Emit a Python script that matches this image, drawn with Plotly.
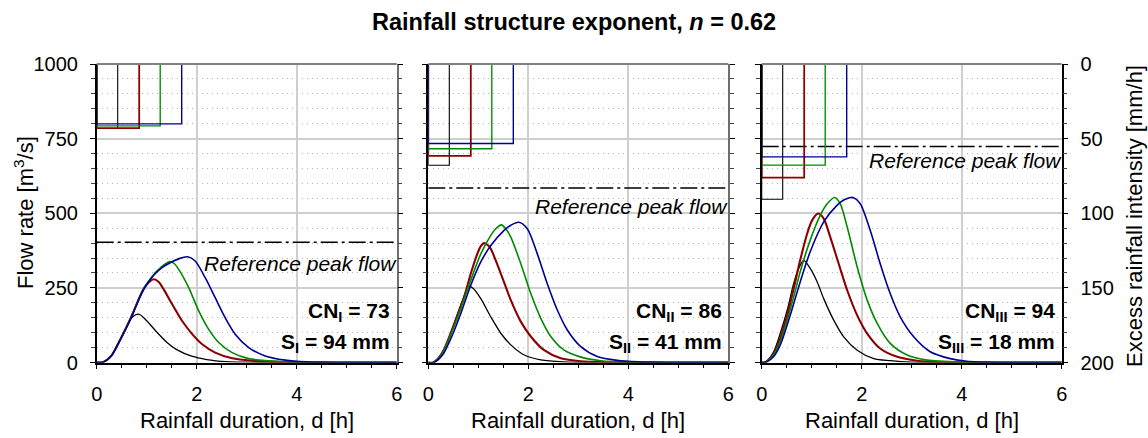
import plotly.graph_objects as go
from plotly.subplots import make_subplots

# ---------------- data ----------------
durations = [0.42, 0.85, 1.27, 1.70]          # rainfall duration [h]
colors = ["#000000", "#8b0000", "#008a00", "#000096"]
widths = [1.3, 2.1, 1.6, 1.6]

# excess rainfall intensity [mm/h] per duration
intensity_I = [43.2, 43.0, 41.5, 40.1]
intensity_II = [67.8, 61.5, 56.8, 53.3]
intensity_III = [90.6, 76.1, 67.8, 62.2]

# reference peak flow [m3/s]
ref_peak = [403, 585, 724]

cn_labels = ["<b>CN<sub>I</sub> = 73</b>", "<b>CN<sub>II</sub> = 86</b>", "<b>CN<sub>III</sub> = 94</b>"]
s_labels = ["<b>S<sub>I</sub> = 94 mm</b>", "<b>S<sub>II</sub> = 41 mm</b>", "<b>S<sub>III</sub> = 18 mm</b>"]

# hydrographs, CN_I = 73
hyd_I_1_t = [0, 0.1, 0.2, 0.3, 0.45, 0.57, 0.7, 0.84, 1.0, 1.2, 1.4, 1.6, 1.9, 2.2, 2.6, 3.0, 3.5, 6]
hyd_I_1_q = [0, 0, 8, 24, 70, 110, 150, 162, 140, 102, 68, 43, 21, 10, 3, 1, 0, 0]
hyd_I_2_t = [0, 0.1, 0.2, 0.3, 0.45, 0.57, 0.71, 0.84, 0.95, 1.05, 1.14, 1.24, 1.34, 1.51, 1.71, 1.91, 2.11, 2.37, 2.71, 3.11, 3.57, 4.2, 6]
hyd_I_2_q = [0, 0, 8, 24, 70, 110, 160, 212, 250, 270, 279, 270, 245, 195, 139, 95, 61, 33, 14, 6, 2, 0, 0]
hyd_I_3_t = [0, 0.1, 0.2, 0.3, 0.45, 0.57, 0.71, 0.84, 0.95, 1.14, 1.24, 1.35, 1.47, 1.56, 1.64, 1.84, 2.04, 2.24, 2.44, 2.71, 3.04, 3.44, 4.0, 4.5, 6]
hyd_I_3_q = [0, 0, 8, 24, 70, 110, 160, 212, 250, 295, 312, 328, 338, 330, 312, 251, 173, 111, 67, 33, 13, 6, 1, 0, 0]
hyd_I_4_t = [0, 0.1, 0.2, 0.3, 0.45, 0.57, 0.71, 0.84, 0.95, 1.14, 1.3, 1.47, 1.65, 1.82, 1.97, 2.17, 2.37, 2.57, 2.77, 3.04, 3.37, 3.77, 4.2, 4.8, 6]
hyd_I_4_q = [0, 0, 8, 24, 69, 108, 158, 210, 248, 292, 317, 334, 348, 354, 340, 284, 217, 150, 95, 50, 22, 8, 2, 0, 0]

# hydrographs, CN_II = 86
hyd_II_1_t = [0, 0.1, 0.2, 0.31, 0.41, 0.51, 0.65, 0.75, 0.82, 0.9, 1.05, 1.25, 1.45, 1.65, 1.91, 2.25, 2.71, 3.2, 6]
hyd_II_1_q = [0, 0, 14, 42, 82, 126, 192, 237, 255, 248, 214, 153, 98, 59, 26, 9, 2, 0, 0]
hyd_II_2_t = [0, 0.1, 0.2, 0.31, 0.41, 0.51, 0.65, 0.71, 0.85, 0.98, 1.05, 1.11, 1.2, 1.25, 1.45, 1.65, 1.85, 2.05, 2.31, 2.65, 3.05, 3.58, 4.2, 6]
hyd_II_2_q = [0, 0, 14, 42, 82, 126, 190, 215, 298, 364, 390, 400, 392, 381, 298, 209, 137, 87, 42, 14, 4, 1, 0, 0]
hyd_II_3_t = [0, 0.1, 0.2, 0.31, 0.41, 0.51, 0.65, 0.85, 1.05, 1.25, 1.35, 1.46, 1.55, 1.65, 1.85, 2.05, 2.25, 2.45, 2.71, 3.05, 3.45, 4.0, 4.6, 6]
hyd_II_3_q = [0, 0, 12, 38, 76, 118, 180, 276, 364, 426, 448, 461, 448, 420, 331, 231, 148, 87, 42, 18, 6, 1, 0, 0]
hyd_II_4_t = [0, 0.1, 0.2, 0.31, 0.41, 0.51, 0.65, 0.85, 1.05, 1.25, 1.51, 1.65, 1.81, 1.98, 2.18, 2.38, 2.58, 2.78, 3.05, 3.38, 3.78, 4.2, 4.8, 6]
hyd_II_4_q = [0, 0, 10, 31, 65, 103, 164, 259, 337, 392, 442, 460, 470, 448, 364, 264, 176, 109, 53, 20, 7, 2, 0, 0]

# hydrographs, CN_III = 94
hyd_III_1_t = [0, 0.05, 0.11, 0.24, 0.37, 0.51, 0.64, 0.74, 0.84, 0.97, 1.11, 1.24, 1.44, 1.64, 1.91, 2.24, 2.57, 3.0, 3.5, 6]
hyd_III_1_q = [0, 0, 6, 36, 97, 175, 265, 315, 342, 315, 270, 214, 142, 86, 41, 13, 6, 1, 0, 0]
hyd_III_2_t = [0, 0.05, 0.11, 0.24, 0.37, 0.51, 0.64, 0.77, 0.91, 1.01, 1.13, 1.24, 1.37, 1.54, 1.71, 1.91, 2.11, 2.37, 2.71, 3.11, 3.6, 4.2, 6]
hyd_III_2_q = [0, 0, 5, 30, 80, 158, 248, 343, 432, 477, 499, 482, 421, 331, 242, 158, 97, 47, 19, 6, 1, 0, 0]
hyd_III_3_t = [0, 0.05, 0.11, 0.24, 0.37, 0.51, 0.64, 0.77, 0.97, 1.17, 1.31, 1.46, 1.57, 1.71, 1.91, 2.11, 2.31, 2.57, 2.91, 3.31, 4.0, 4.6, 6]
hyd_III_3_q = [0, 0, 4, 26, 69, 142, 220, 304, 410, 493, 532, 553, 532, 454, 320, 209, 131, 64, 25, 8, 1, 0, 0]
hyd_III_4_t = [0, 0.05, 0.11, 0.24, 0.37, 0.57, 0.77, 0.97, 1.24, 1.51, 1.65, 1.82, 1.97, 2.17, 2.37, 2.57, 2.77, 3.04, 3.37, 3.77, 4.1, 4.8, 6]
hyd_III_4_q = [0, 0, 3, 20, 58, 158, 270, 371, 471, 527, 545, 553, 532, 443, 331, 231, 153, 86, 36, 13, 4, 0, 0]

panels = [
    (intensity_I, [(hyd_I_1_t, hyd_I_1_q), (hyd_I_2_t, hyd_I_2_q), (hyd_I_3_t, hyd_I_3_q), (hyd_I_4_t, hyd_I_4_q)]),
    (intensity_II, [(hyd_II_1_t, hyd_II_1_q), (hyd_II_2_t, hyd_II_2_q), (hyd_II_3_t, hyd_II_3_q), (hyd_II_4_t, hyd_II_4_q)]),
    (intensity_III, [(hyd_III_1_t, hyd_III_1_q), (hyd_III_2_t, hyd_III_2_q), (hyd_III_3_t, hyd_III_3_q), (hyd_III_4_t, hyd_III_4_q)]),
]

# ---------------- layout geometry (pixels) ----------------
W, H = 1148, 438
panel_left = [96.7, 428.3, 761.7]
panel_width = 300.0
plot_top, plot_bottom = 64.0, 362.5
FONT = "Liberation Sans, Arial, sans-serif"

fig = make_subplots(rows=1, cols=3, specs=[[{"secondary_y": True}] * 3])

for col, (intens, hyds) in enumerate(panels, start=1):
    # excess rainfall hyetographs hanging from the top (secondary axis)
    for k, d in enumerate(durations):
        fig.add_trace(go.Scatter(
            x=[0, 0, d, d], y=[0, intens[k], intens[k], 0], mode="lines",
            line=dict(color=colors[k], width=widths[k] * 0.85),
            showlegend=False, hoverinfo="skip"),
            row=1, col=col, secondary_y=True)
    # reference peak flow
    fig.add_trace(go.Scatter(
        x=[0, 6], y=[ref_peak[col - 1]] * 2, mode="lines",
        line=dict(color="black", width=1.5, dash="17px,4px,3px,4px"),
        showlegend=False, hoverinfo="skip"),
        row=1, col=col, secondary_y=False)
    # hydrographs
    for k, (t, q) in enumerate(hyds):
        fig.add_trace(go.Scatter(
            x=t, y=q, mode="lines", line=dict(color=colors[k], width=widths[k], shape="spline", smoothing=0.8),
            showlegend=False, hoverinfo="skip"),
            row=1, col=col, secondary_y=False)

ydom = [1 - plot_bottom / H, 1 - plot_top / H]
tickfont = dict(family=FONT, size=20, color="black")

for i in range(3):
    xa = "xaxis" if i == 0 else f"xaxis{i + 1}"
    ya = "yaxis" if i == 0 else f"yaxis{2 * i + 1}"
    ya2 = f"yaxis{2 * i + 2}"
    x0 = panel_left[i] / W
    x1 = (panel_left[i] + panel_width) / W
    fig.layout[xa].update(
        domain=[x0, x1], range=[0, 6], dtick=2, tick0=0,
        showgrid=True, gridcolor="#cfcfcf", gridwidth=1.5,
        showline=True, linecolor="black", linewidth=1.5,
        ticks="outside", ticklen=5, tickcolor="black",
        minor=dict(dtick=0.5, ticks="outside", ticklen=4, tickcolor="black", showgrid=False),
        tickfont=tickfont, ticklabelstandoff=8, zeroline=False, automargin=False)
    fig.layout[ya].update(
        domain=ydom, range=[0, 1000], dtick=250, tick0=0,
        showgrid=True, gridcolor="#cfcfcf", gridwidth=1.5,
        showline=True, linecolor="black", linewidth=1.5,
        ticks="outside", ticklen=5, tickcolor="black",
        minor=dict(dtick=50, ticks="outside", ticklen=4, tickcolor="#444",
                   showgrid=True, gridcolor="#b5b5b5", griddash="1px,4px", gridwidth=1),
        showticklabels=(i == 0), tickfont=tickfont, ticklabelstandoff=8,
        zeroline=False, automargin=False)
    fig.layout[ya2].update(
        domain=ydom, range=[200, 0], dtick=50, tick0=0,
        showgrid=False, showline=True,
        linecolor="black" if i == 2 else "#6e6e6e", linewidth=1.5,
        ticks="outside", ticklen=5, tickcolor="black",
        minor=dict(dtick=10, ticks="outside", ticklen=4, tickcolor="#444", showgrid=False),
        showticklabels=(i == 2), tickfont=tickfont, ticklabelstandoff=8,
        zeroline=False, automargin=False)

annotations = []
shapes = []
label_shift = [-8, -5, -1]
for i in range(3):
    xref = "x" if i == 0 else f"x{i + 1}"
    yref = "y" if i == 0 else f"y{2 * i + 1}"
    cx = (panel_left[i] + panel_width / 2) / W
    # top frame edge
    shapes.append(dict(type="line", xref=f"{xref} domain", yref=f"{yref} domain",
                       x0=0, x1=1, y0=1, y1=1, line=dict(color="#808080", width=2)))
    annotations.append(dict(text="Rainfall duration, d [h]", x=cx, y=1 - 420 / H, xref="paper", yref="paper",
                            showarrow=False, xanchor="center", yanchor="middle",
                            font=dict(family=FONT, size=22, color="black")))
    annotations.append(dict(text="<i>Reference peak flow</i>", x=6, y=ref_peak[i], xref=xref, yref=yref,
                            showarrow=False, xanchor="right", yanchor="top", yshift=label_shift[i], xshift=2,
                            font=dict(family=FONT, size=21, color="black")))
    annotations.append(dict(text=cn_labels[i], x=0.985, y=(plot_bottom - 312) / (plot_bottom - plot_top),
                            xref=f"{xref} domain", yref=f"{yref} domain", showarrow=False,
                            xanchor="right", yanchor="middle", font=dict(family=FONT, size=21, color="black")))
    annotations.append(dict(text=s_labels[i], x=0.985, y=(plot_bottom - 343) / (plot_bottom - plot_top),
                            xref=f"{xref} domain", yref=f"{yref} domain", showarrow=False,
                            xanchor="right", yanchor="middle", font=dict(family=FONT, size=21, color="black")))

annotations.append(dict(text="<b>Rainfall structure exponent, <i>n</i> = 0.62</b>", x=0.5, y=1 - 22 / H,
                        xref="paper", yref="paper", showarrow=False, xanchor="center", yanchor="middle",
                        font=dict(family=FONT, size=23.5, color="black")))
annotations.append(dict(text="Flow rate [m<sup>3</sup>/s]", x=24 / W, y=1 - 213 / H, xref="paper", yref="paper",
                        showarrow=False, textangle=-90, xanchor="center", yanchor="middle",
                        font=dict(family=FONT, size=22, color="black")))
annotations.append(dict(text="Excess rainfall intensity [mm/h]", x=1134 / W, y=1 - 216 / H, xref="paper",
                        yref="paper", showarrow=False, textangle=-90, xanchor="center", yanchor="middle",
                        font=dict(family=FONT, size=22, color="black")))

fig.update_layout(
    width=W, height=H, margin=dict(l=0, r=0, t=0, b=0),
    paper_bgcolor="white", plot_bgcolor="white",
    annotations=annotations, shapes=shapes, showlegend=False,
    font=dict(family=FONT, color="black"))

fig.write_html("out.html")
